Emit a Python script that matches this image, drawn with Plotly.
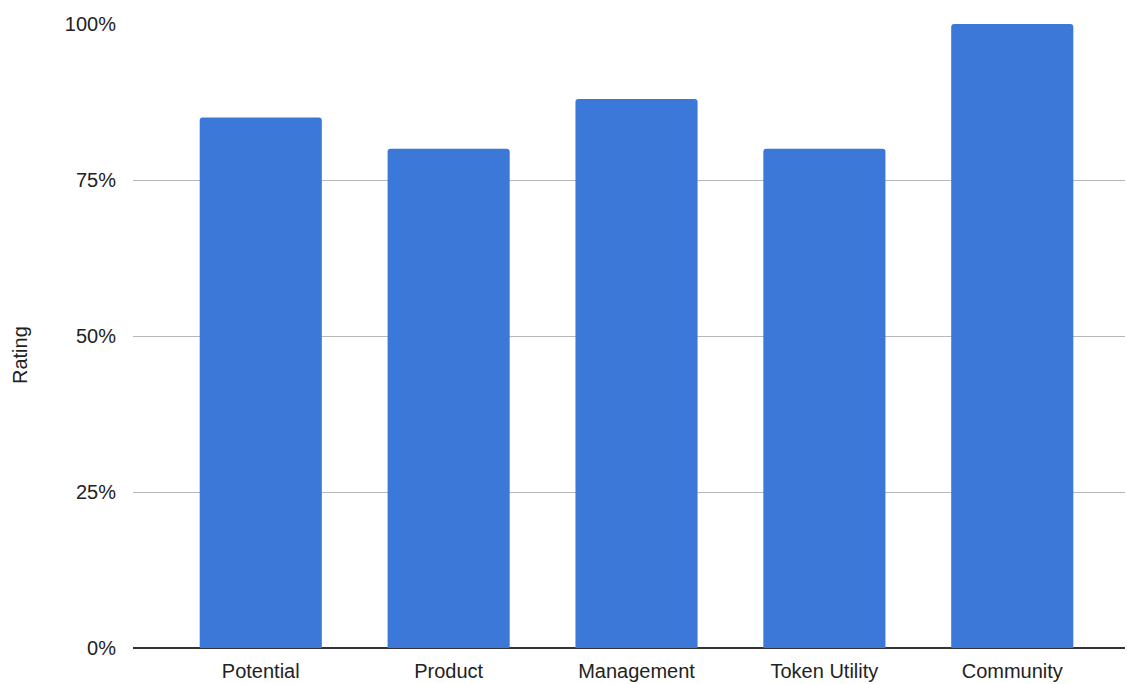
import plotly.graph_objects as go

categories = ["Potential", "Product", "Management", "Token Utility", "Community"]
ratings = [0.85, 0.80, 0.88, 0.80, 1.00]
y_ticks = [0, 0.25, 0.5, 0.75, 1.0]
y_tick_labels = ["0%", "25%", "50%", "75%", "100%"]

fig = go.Figure(go.Bar(
    x=categories, y=ratings,
    marker=dict(color="#3c78d8", line=dict(width=0), cornerradius=3),
    hoverinfo="skip",
))

font = "Liberation Sans, Arial, sans-serif"
fig.update_layout(
    width=1127, height=684,
    margin=dict(l=133, r=2, t=24, b=36),
    paper_bgcolor="white", plot_bgcolor="white",
    bargap=0.35, showlegend=False,
    font=dict(family=font, size=20, color="#222222"),
    xaxis=dict(
        range=[-0.68, 4.6], showgrid=False, zeroline=False,
        showline=False, ticks="outside", ticklen=5, tickcolor="rgba(0,0,0,0)",
        tickfont=dict(size=20, color="#222222", family=font),
    ),
    yaxis=dict(
        range=[0, 1.0], tickvals=y_ticks, ticktext=y_tick_labels,
        showgrid=True, gridcolor="#b7b7b7", gridwidth=1,
        zeroline=True, zerolinecolor="#333333", zerolinewidth=1.5,
        showline=False, ticks="outside", ticklen=12, tickcolor="rgba(0,0,0,0)",
        tickfont=dict(size=20, color="#222222", family=font),
    ),
    annotations=[dict(
        text="Rating", x=20, y=355, xref="paper", yref="paper",
        showarrow=False, textangle=-90, font=dict(size=20, color="#222222", family=font),
    )],
)
plot_w = 1127 - 133 - 2
plot_h = 684 - 24 - 36
fig.layout.annotations[0].x = (20 - 133) / plot_w
fig.layout.annotations[0].y = (648 - 355) / plot_h
fig.layout.annotations[0].xanchor = "center"
fig.layout.annotations[0].yanchor = "middle"

fig.write_html("out.html")
